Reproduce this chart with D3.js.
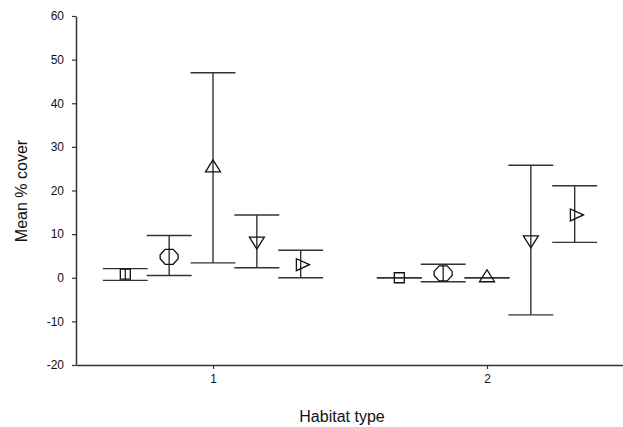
<!DOCTYPE html>
<html>
<head>
<meta charset="utf-8">
<script src="https://cdn.jsdelivr.net/npm/d3@7"></script>
<style>
  body { margin: 0; background: #fff; }
  svg { display: block; font-family: "Liberation Sans", Arial, sans-serif; }
</style>
</head>
<body>
<div id="chart"></div>
<script>
// data
const habitats = [1, 2];
const seriesNames = ["square", "hexagon", "triangleUp", "triangleDown", "triangleRight"];
const yTicks = [-20, -10, 0, 10, 20, 30, 40, 50, 60];

// habitat 1
const mean1  = [0.85, 4.8, 25.2, 8.4, 3.0];
const lower1 = [-0.6, 0.5, 3.4, 2.3, 0.0];
const upper1 = [2.1, 9.7, 47.0, 14.4, 6.3];
// habitat 2
const mean2  = [0.0, 1.0, 0.0, 8.7, 14.4];
const lower2 = [0.0, -0.9, 0.0, -8.5, 8.1];
const upper2 = [0.0, 3.1, 0.0, 25.8, 21.1];

// build rows for drawing
const rows = [];
[[mean1, lower1, upper1], [mean2, lower2, upper2]].forEach((g, hi) => {
    seriesNames.forEach((s, i) => {
        rows.push({ habitat: habitats[hi], series: s, mean: g[0][i], lo: g[1][i], hi: g[2][i] });
    });
});

const width = 623, height = 427;
const svg = d3.select("#chart").append("svg")
    .attr("width", width)
    .attr("height", height);

// scales
const x = d3.scaleLinear().domain([0.5, 2.5]).range([76, 624]);
const y = d3.scaleLinear().domain([-20, 60]).range([365, 16]);
// offset of each series inside a habitat, in habitat units
const offset = d3.scalePoint().domain(seriesNames).range([-0.32, 0.32]);
const capHalf = 0.082;

// axes (plain hyphen for negatives, like the original)
const gy = svg.append("g")
    .attr("transform", `translate(${x(0.5)},0)`)
    .call(d3.axisLeft(y).tickValues(yTicks).tickFormat(d => String(d))
        .tickSize(4).tickSizeOuter(0).tickPadding(8));
const gx = svg.append("g")
    .attr("transform", `translate(0,${y(-20)})`)
    .call(d3.axisBottom(x).tickValues(habitats).tickFormat(d => String(d))
        .tickSize(4).tickSizeOuter(0).tickPadding(5));

[gx, gy].forEach(g => {
    g.select(".domain").attr("stroke", "#333").attr("stroke-width", 1.5);
    g.selectAll(".tick line").attr("stroke", "#333").attr("stroke-width", 1.2);
    g.selectAll(".tick text")
        .attr("fill", "#111")
        .style("font-size", "12px")
        .style("font-family", "'Liberation Sans', Arial, sans-serif");
});

// axis labels
svg.append("text")
    .attr("x", 342)
    .attr("y", 422)
    .attr("text-anchor", "middle")
    .style("font-size", "16px")
    .attr("fill", "#111")
    .text("Habitat type");
svg.append("text")
    .attr("transform", "rotate(-90)")
    .attr("x", -191)
    .attr("y", 27)
    .attr("text-anchor", "middle")
    .style("font-size", "16px")
    .attr("fill", "#111")
    .text("Mean % cover");

// marker shapes (outline, centered on the mean)
const shapes = {
    square: "M-5,-5L5,-5L5,5L-5,5Z",
    hexagon: "M-4,-7.5L4,-7.5L9,-2L9,2L4,7.5L-4,7.5L-9,2L-9,-2Z",
    triangleUp: "M0,-8L7.5,4L-7.5,4Z",
    triangleDown: "M0,8L7.5,-4L-7.5,-4Z",
    triangleRight: "M8.7,0L-4.3,-6L-4.3,6Z"
};

const bars = svg.append("g")
    .attr("stroke", "#333")
    .attr("fill", "none");

rows.forEach(d => {
    const cx = d.habitat + offset(d.series);
    // vertical whisker
    bars.append("line")
        .attr("x1", x(cx)).attr("x2", x(cx))
        .attr("y1", y(d.lo)).attr("y2", y(d.hi))
        .attr("stroke-width", 1.4);
    // caps
    [d.lo, d.hi].forEach(v => {
        bars.append("line")
            .attr("x1", x(cx - capHalf)).attr("x2", x(cx + capHalf))
            .attr("y1", y(v)).attr("y2", y(v))
            .attr("stroke-width", 1.4);
    });
    // marker
    bars.append("path")
        .attr("d", shapes[d.series])
        .attr("transform", `translate(${x(cx)},${y(d.mean)})`)
        .attr("stroke", "#111")
        .attr("stroke-width", 1.3);
});
</script>
</body>
</html>
